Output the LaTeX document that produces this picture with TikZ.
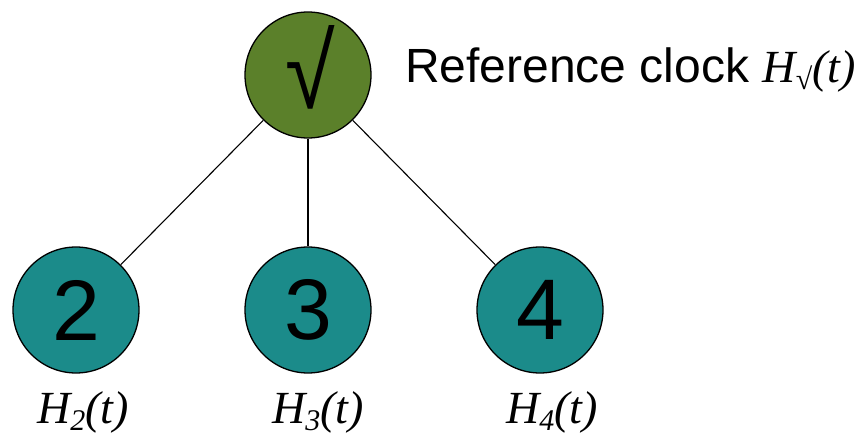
\documentclass[tikz,border=0pt]{standalone}
\usepackage{fontspec}
\setmainfont{Liberation Sans}
\newfontfamily\serifit{Liberation Serif}[UprightFont=*-Italic]
\definecolor{refgreen}{RGB}{91,128,42}
\definecolor{nodeteal}{RGB}{27,139,138}
% subscript for the clock labels
\newcommand\clksub[1]{\raisebox{-7pt}{\fontsize{30}{30}\selectfont #1}}
\begin{document}
\begin{tikzpicture}[x=1pt,y=-1pt]
\tikzset{
  clk/.style={circle,draw=black,line width=1.3pt,minimum size=126pt,inner sep=0pt,
    font=\fontsize{86}{86}\selectfont},
  link/.style={draw=black,line width=1.1pt},
  clklabel/.style={anchor=base,font=\serifit\fontsize{46}{46}\selectfont,inner sep=0pt}
}
\useasboundingbox (0,0) rectangle (859,435);

\node[clk,fill=refgreen] (ref) at (308,75) {};
\node[font=\fontsize{86}{86}\selectfont,inner sep=0pt] (radical) at (310,67) {\scalebox{1.05}[1.22]{√}};
\node[clk,fill=nodeteal] (n2) at (76,310) {2};
\node[clk,fill=nodeteal] (n3) at (308,310) {3};
\node[clk,fill=nodeteal] (n4) at (540,310) {4};

\draw[link] (ref) -- (n2);
\draw[link] (ref) -- (n3);
\draw[link] (ref) -- (n4);

\node[anchor=base west,inner sep=0pt,font=\fontsize{48}{48}\selectfont] (reftext) at (405,83)
  {Reference clock {\serifit\fontsize{46}{46}\selectfont H\clksub{√}(t)}};

\node[clklabel] (h2) at (83,423) {H\clksub{2}(t)};
\node[clklabel] (h3) at (318,423) {H\clksub{3}(t)};
\node[clklabel] (h4) at (552,423) {H\clksub{4}(t)};
\end{tikzpicture}
\end{document}
